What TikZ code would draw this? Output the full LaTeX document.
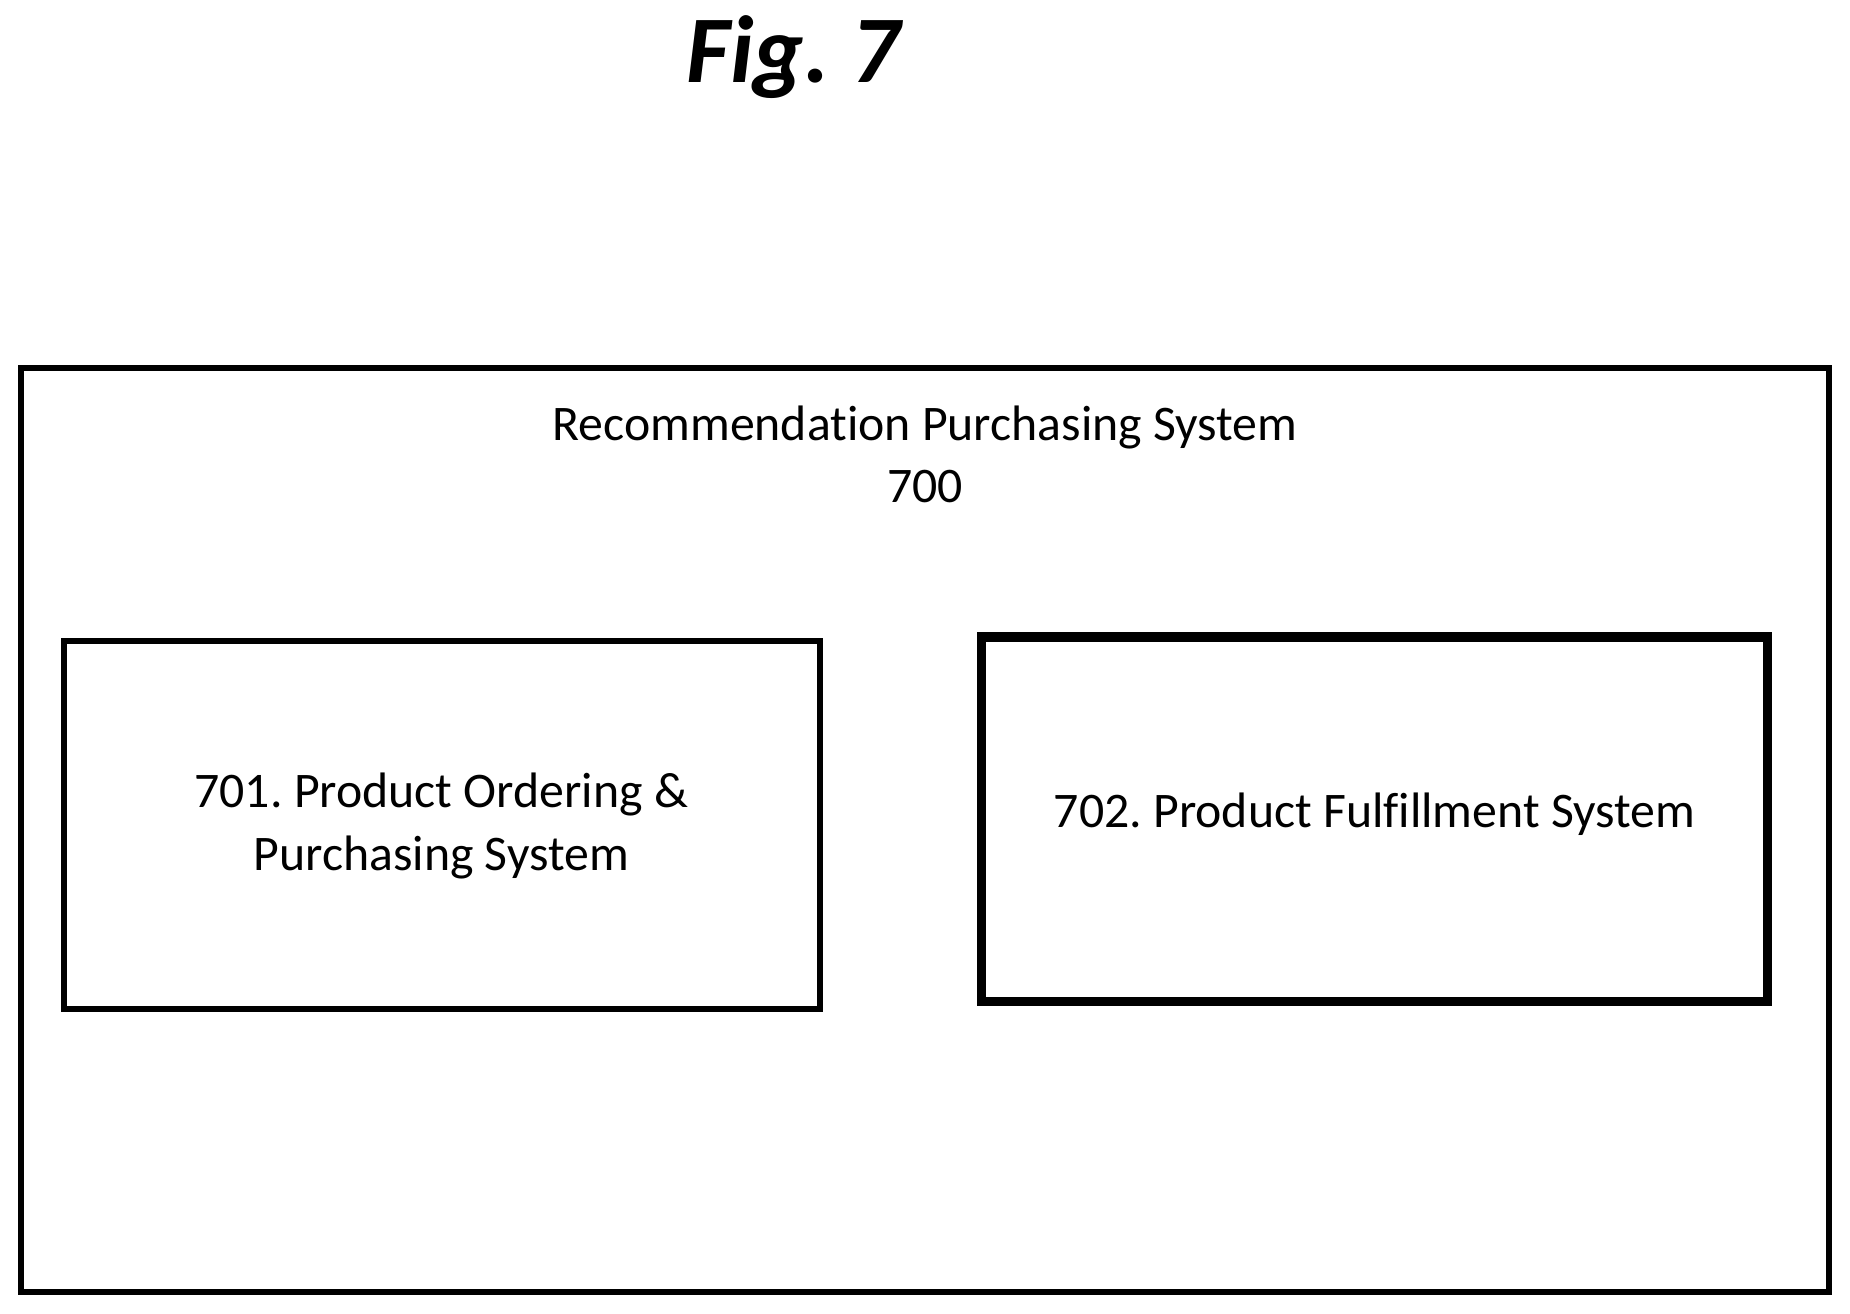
\documentclass[tikz,border=0pt]{standalone}
\usepackage{fontspec}
\setmainfont[Ligatures=NoCommon]{Carlito}
\usetikzlibrary{positioning}
\frenchspacing

\begin{document}
\begin{tikzpicture}[x=0.01cm,y=-0.01cm,
  sysbox/.style={draw,line width=1.5pt,align=center,font=\fontsize{12pt}{15pt}\selectfont}]
  \useasboundingbox (0,0) rectangle (1568,1113);

  %title
  \node[font=\fontsize{23pt}{27pt}\selectfont\bfseries\itshape] (fig) at (672,48) {Fig. 7};

  %outer system
  \draw[line width=1.5pt] (18,312) rectangle (1550,1095);
  \node[align=center,font=\fontsize{12pt}{15pt}\selectfont] (sys) at (784,385) {Recommendation Purchasing System\\700};

  %inner boxes
  \draw[line width=1.5pt] (54,543) rectangle (695,855);
  \node[align=center,font=\fontsize{12pt}{15pt}\selectfont] (ordering) at (374,700) {701. Product Ordering \&\\Purchasing System};
  \draw[line width=2.3pt] (832,540) rectangle (1498,849);
  \node[font=\fontsize{12pt}{15pt}\selectfont] (fulfil) at (1165,690) {702. Product Fulfillment System};
\end{tikzpicture}
\end{document}
